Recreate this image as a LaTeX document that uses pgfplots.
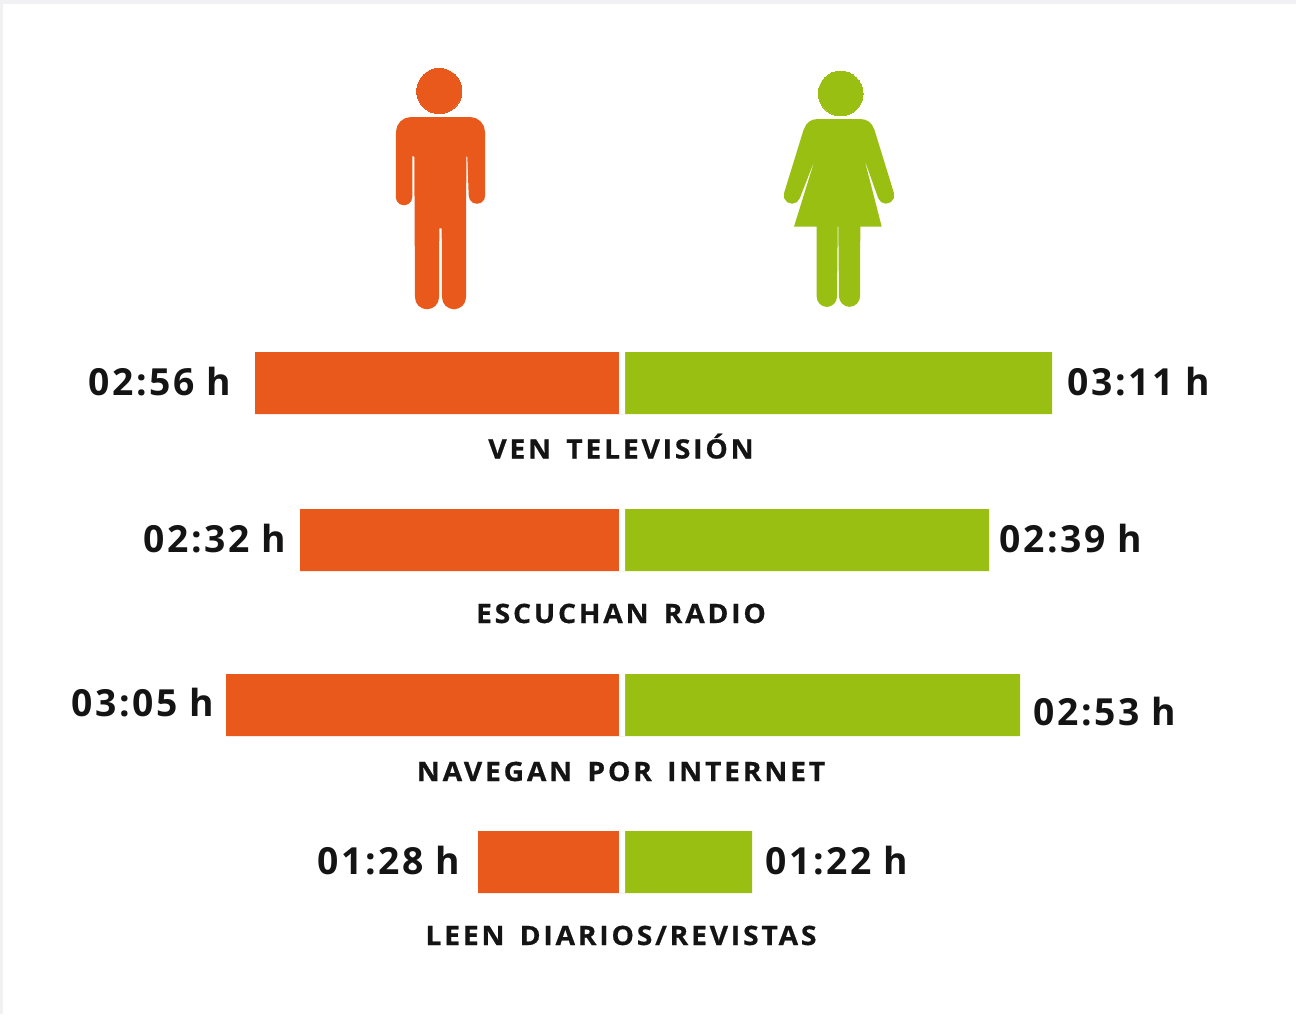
\documentclass[border=0pt]{standalone}
\usepackage{pgfplots}
\pgfplotsset{compat=1.18}
\usepackage{fontspec}
\setmainfont{Open Sans}
\newfontfamily\valfont{Open Sans Bold}[LetterSpace=7]
\newfontfamily\catfont{Open Sans Bold}[LetterSpace=10.5,WordSpace=1.5,FakeStretch=1.06,FakeBold=0.6]
\definecolor{manc}{HTML}{E8591B}
\definecolor{womanc}{HTML}{98BF12}
\definecolor{edgec}{HTML}{F1F1F3}
\definecolor{txt}{HTML}{141414}
\newcommand{\val}[3]{\node[anchor=base west,inner sep=0pt,text=txt] at (axis cs:#1-622,#2) {\fontsize{28}{28}\valfont #3};}
\newcommand{\cat}[2]{\node[anchor=base,inner sep=0pt,text=txt] at (axis cs:-1,#1) {\fontsize{20}{20}\catfont #2};}
\begin{document}
\begin{tikzpicture}
\begin{axis}[
  width=972pt,height=760.5pt,scale only axis,
  xmin=-622,xmax=674,ymin=0,ymax=1014,y dir=reverse,
  axis lines=none,clip=false,
  xbar,bar width=46.5pt,bar shift=0pt,
]
\fill[edgec] (axis cs:-622,0) rectangle (axis cs:674,1014);
\fill[white] (axis cs:-619,4) rectangle (axis cs:674,1014);
% man / woman bars: drawn length in pixels from the centre line
\addplot[fill=manc,draw=none] coordinates {(-367,383) (-322,540) (-396,705) (-144,862)};
\addplot[fill=womanc,draw=none] coordinates {(430,383) (367,540) (398,705) (130,862)};
% white centre gap
\addplot[fill=white,draw=none] coordinates {(-3,383) (3,383) (-3,540) (3,540) (-3,705) (3,705) (-3,862) (3,862)};
% figures
\addplot[fill=manc,draw=none,sharp plot] coordinates {
(-211,117) (-152,117) (-146.3,118.1) (-141.4,121.4) (-138.1,126.3) (-137,132)
(-136.8,195.5) (-137.8,199.6) (-140.9,202.7) (-145,203.8) (-149.2,202.7) (-152.2,199.6) (-153.3,195.5)
(-154.7,156.7) (-155.7,156.7) (-156,297.3) (-157,302) (-159.5,305.8) (-163.4,308.3) (-168,309.3) (-172.6,308.3) (-176.5,305.8) (-179,302) (-180,297.3)
(-180.3,228.3) (-182.7,228.3) (-183,297.3) (-184,302) (-186.5,305.8) (-190.4,308.3) (-195,309.3) (-199.6,308.3) (-203.5,305.8) (-206,302) (-207,297.3)
(-207.7,156.7) (-209.7,156) (-209.7,197) (-210.8,201.2) (-213.9,204.2) (-218,205.3) (-222.2,204.2) (-225.2,201.2) (-226.2,197)
(-226,132) (-224.9,126.3) (-221.6,121.4) (-216.7,118.1)} -- cycle;
\addplot[only marks,sharp plot,mark=*,mark size=17pt,draw=none,mark options={fill=manc,draw=manc,line width=0pt}] coordinates {(-182.7,91)};
\addplot[fill=womanc,draw=none,sharp plot] coordinates {
(196,119) (238,119) (243,119.7) (247,121.7) (250,125) (252.5,130)
(271.9,193) (271.9,198.1) (268.8,202.2) (263.9,203.7) (259.1,202.2) (256.1,198)
(242.3,159) (259.7,226.7) (238.3,226.7) (238,296.3) (237.2,300.3) (234.9,303.7) (231.5,306) (227.5,306.8) (223.5,306) (220.1,303.7) (217.8,300.3) (217,296.3)
(216.3,226.7) (215.7,226.7) (215,296.7) (214.2,300.6) (212,303.9) (208.7,306.1) (204.85,306.9) (201,306.1) (197.7,303.9) (195.5,300.6) (194.7,296.7)
(194.7,226.7) (172,226.7) (193,159) (177.9,198) (174.9,202.2) (170.1,203.7) (165.2,202.2) (162.1,198.1) (162.1,193)
(181.5,130) (184,125) (187,121.7) (191,119.7)} -- cycle;
\addplot[only marks,sharp plot,mark=*,mark size=16.8pt,draw=none,mark options={fill=womanc,draw=womanc,line width=0pt}] coordinates {(218.7,93.5)};
% labels
\val{88}{395}{02:56 h}
\val{1067}{395}{03:11 h}
\val{143}{552}{02:32 h}
\val{999}{552}{02:39 h}
\val{71}{716}{03:05 h}
\val{1033}{725}{02:53 h}
\val{317}{874}{01:28 h}
\val{765}{874}{01:22 h}
\cat{458.5}{VEN TELEVISIÓN}
\cat{623}{ESCUCHAN RADIO}
\cat{781}{NAVEGAN POR INTERNET}
\cat{945}{LEEN DIARIOS/REVISTAS}
\end{axis}
\end{tikzpicture}
\end{document}
